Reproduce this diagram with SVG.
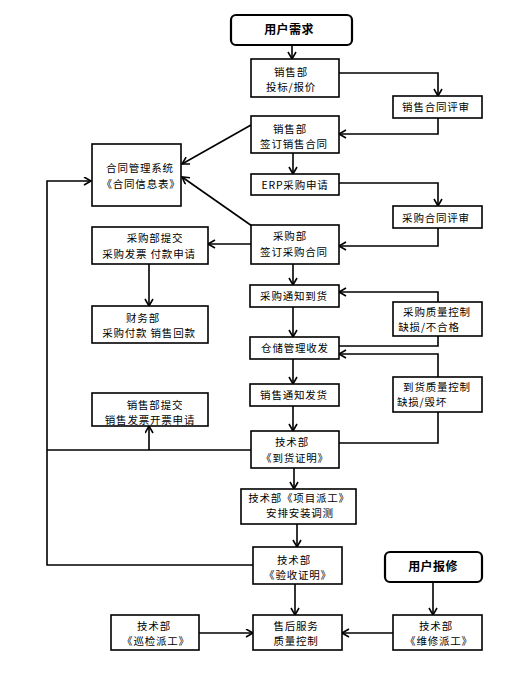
<svg xmlns="http://www.w3.org/2000/svg" width="526" height="675" viewBox="0 0 526 675">
<style>
.box{fill:#fff;stroke:#000;stroke-width:1.6}
.rbox{fill:#fff;stroke:#000;stroke-width:2.2}
.t{font-family:"Noto Sans CJK SC","Liberation Sans",sans-serif;font-size:10.5px;letter-spacing:0.8px;text-anchor:middle;fill:#000}
.b{font-weight:bold;font-size:12px;letter-spacing:0.4px}
.c{fill:none;stroke:#000;stroke-width:1.6}
</style>
<defs>
<marker id="a" markerUnits="userSpaceOnUse" markerWidth="10" markerHeight="10" refX="8" refY="4.5" orient="auto">
<path d="M1,0.5 L8,4.5 L1,8.5" fill="none" stroke="#000" stroke-width="1.6"/>
</marker>
</defs>
<rect width="526" height="675" fill="#fff"/>
<g id="connectors">
<path class="c" d="M292,45 V59" marker-end="url(#a)"/>
<path class="c" d="M339,73 H438 V96" marker-end="url(#a)"/>
<path class="c" d="M438,118 V134 H339" marker-end="url(#a)"/>
<path class="c" d="M251,125 L182,164" marker-end="url(#a)"/>
<path class="c" d="M293,153 V174" marker-end="url(#a)"/>
<path class="c" d="M339,183 H438 V206" marker-end="url(#a)"/>
<path class="c" d="M438,228 V246 H339" marker-end="url(#a)"/>
<path class="c" d="M252,226 L182,177" marker-end="url(#a)"/>
<path class="c" d="M251,244 H208" marker-end="url(#a)"/>
<path class="c" d="M293,264 V285" marker-end="url(#a)"/>
<path class="c" d="M149,264 V306" marker-end="url(#a)"/>
<path class="c" d="M438,302 V292 H339" marker-end="url(#a)"/>
<path class="c" d="M293,307 V337" marker-end="url(#a)"/>
<path class="c" d="M438,336 V346 H339"/>
<path class="c" d="M438,377 V354 H339" marker-end="url(#a)"/>
<path class="c" d="M293,359 V384" marker-end="url(#a)"/>
<path class="c" d="M293,406 V431" marker-end="url(#a)"/>
<path class="c" d="M438,412 V443 H339"/>
<path class="c" d="M251,450 H47"/>
<path class="c" d="M149,450 V426" marker-end="url(#a)"/>
<path class="c" d="M253,565 H47 V181 H91" marker-end="url(#a)"/>
<path class="c" d="M294,468 V489" marker-end="url(#a)"/>
<path class="c" d="M297,524 V547" marker-end="url(#a)"/>
<path class="c" d="M295,584 V615" marker-end="url(#a)"/>
<path class="c" d="M433,582 V615" marker-end="url(#a)"/>
<path class="c" d="M199,633 H253" marker-end="url(#a)"/>
<path class="c" d="M393,633 H342" marker-end="url(#a)"/>
</g>
<g id="n_user_need"><rect class="rbox" x="231" y="15" width="121" height="30" rx="5"/><text class="t b" x="289" y="34">用户需求</text></g>
<g id="n_bid"><rect class="box" x="251" y="59" width="88" height="38"/><text class="t" x="291" y="75.5">销售部</text><text class="t" x="291" y="91">投标/报价</text></g>
<g id="n_sales_review"><rect class="box" x="393" y="96" width="89" height="22"/><text class="t" x="436" y="111">销售合同评审</text></g>
<g id="n_sales_contract"><rect class="box" x="251" y="116" width="88" height="37"/><text class="t" x="290" y="132.5">销售部</text><text class="t" x="294" y="148">签订销售合同</text></g>
<g id="n_cms"><rect class="box" x="92" y="144" width="89" height="62"/><text class="t" x="140" y="172">合同管理系统</text><text class="t" x="141" y="187.5">《合同信息表》</text></g>
<g id="n_erp"><rect class="box" x="251" y="174" width="88" height="21"/><text class="t" x="295" y="188.5">ERP采购申请</text></g>
<g id="n_purchase_review"><rect class="box" x="393" y="206" width="89" height="22"/><text class="t" x="436" y="221.5">采购合同评审</text></g>
<g id="n_purchase_contract"><rect class="box" x="251" y="225" width="88" height="39"/><text class="t" x="290" y="240">采购部</text><text class="t" x="294" y="255.5">签订采购合同</text></g>
<g id="n_purchase_invoice"><rect class="box" x="92" y="227" width="116" height="37"/><text class="t" x="155" y="242">采购部提交</text><text class="t" x="149" y="257.5">采购发票 付款申请</text></g>
<g id="n_arrival_notice"><rect class="box" x="250" y="285" width="89" height="22"/><text class="t" x="294" y="300">采购通知到货</text></g>
<g id="n_purchase_qc"><rect class="box" x="393" y="302" width="89" height="34"/><text class="t" x="437" y="315.5">采购质量控制</text><text class="t" x="429" y="331">缺损/不合格</text></g>
<g id="n_finance"><rect class="box" x="92" y="306" width="116" height="37"/><text class="t" x="143" y="321.5">财务部</text><text class="t" x="149" y="337">采购付款 销售回款</text></g>
<g id="n_warehouse"><rect class="box" x="250" y="337" width="89" height="22"/><text class="t" x="295" y="352">仓储管理收发</text></g>
<g id="n_ship_notice"><rect class="box" x="250" y="384" width="89" height="22"/><text class="t" x="294" y="399">销售通知发货</text></g>
<g id="n_arrival_qc"><rect class="box" x="393" y="377" width="89" height="35"/><text class="t" x="437" y="390.5">到货质量控制</text><text class="t" x="422" y="406">缺损/毁坏</text></g>
<g id="n_sales_invoice"><rect class="box" x="92" y="393" width="116" height="33"/><text class="t" x="155" y="408.5">销售部提交</text><text class="t" x="150" y="424">销售发票开票申请</text></g>
<g id="n_arrival_cert"><rect class="box" x="251" y="431" width="88" height="37"/><text class="t" x="292" y="446">技术部</text><text class="t" x="295" y="461.5">《到货证明》</text></g>
<g id="n_dispatch"><rect class="box" x="241" y="489" width="115" height="35"/><text class="t" x="299" y="501.5">技术部《项目派工》</text><text class="t" x="300" y="517">安排安装调测</text></g>
<g id="n_accept_cert"><rect class="box" x="253" y="547" width="89" height="37"/><text class="t" x="294" y="563.5">技术部</text><text class="t" x="298" y="579">《验收证明》</text></g>
<g id="n_user_repair"><rect class="rbox" x="385" y="552" width="97" height="30" rx="5"/><text class="t b" x="433" y="571">用户报修</text></g>
<g id="n_after_sales"><rect class="box" x="253" y="615" width="89" height="35"/><text class="t" x="296" y="629.5">售后服务</text><text class="t" x="296" y="645">质量控制</text></g>
<g id="n_patrol"><rect class="box" x="111" y="615" width="88" height="35"/><text class="t" x="154" y="629.5">技术部</text><text class="t" x="156" y="645">《巡检派工》</text></g>
<g id="n_repair"><rect class="box" x="393" y="615" width="89" height="35"/><text class="t" x="436" y="629.5">技术部</text><text class="t" x="439" y="645">《维修派工》</text></g>
</svg>
